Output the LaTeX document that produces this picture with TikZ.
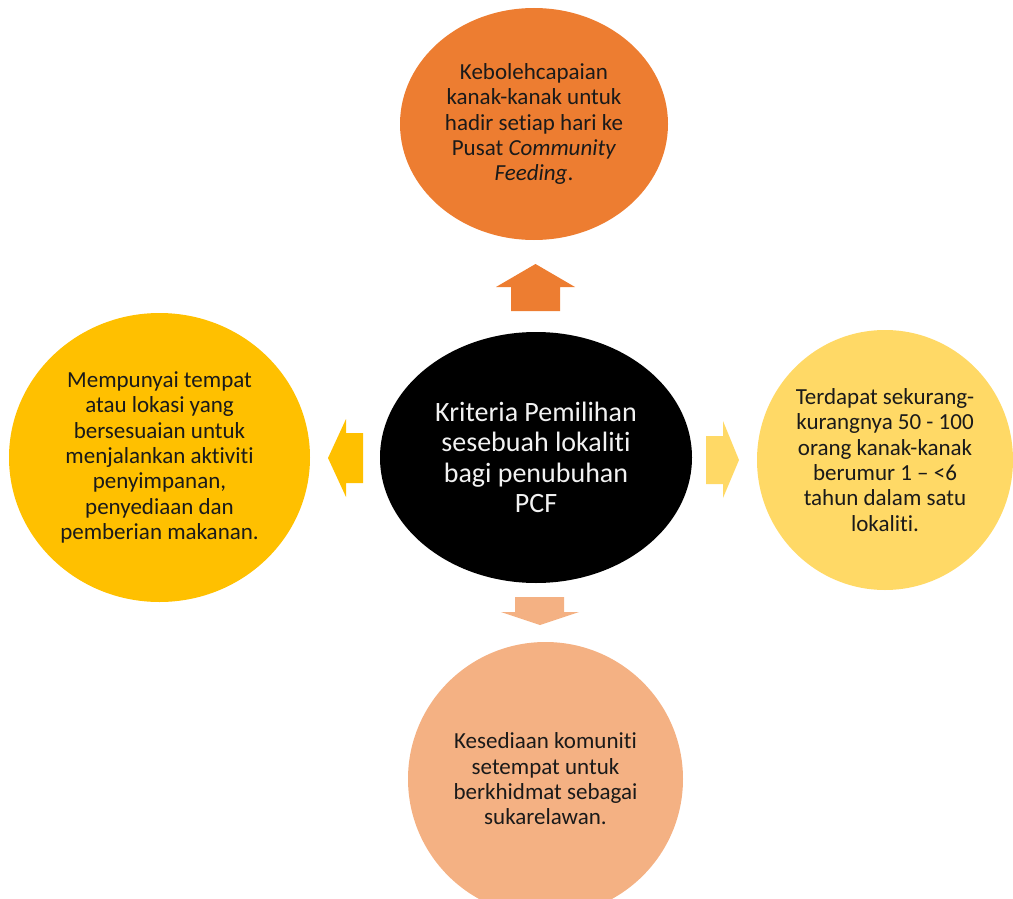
\documentclass[tikz,border=0pt]{standalone}
\usepackage{fontspec}
\setmainfont{Carlito}[Ligatures=NoCommon]
\usetikzlibrary{shapes.geometric}
\definecolor{cTop}{HTML}{ED7D31}
\definecolor{cLeft}{HTML}{FFC000}
\definecolor{cRight}{HTML}{FFD966}
\definecolor{cBottom}{HTML}{F4B183}
\definecolor{cText}{HTML}{1A1A1A}
\tikzset{
  bubble/.style={ellipse, inner sep=-40pt, align=center, text=cText,
    font=\fontsize{23}{25.3}\selectfont},
  hub/.style={ellipse, inner sep=-40pt, align=center, fill=black, text=white!95!black,
    font=\fontsize{28}{30.5}\selectfont},
}
\begin{document}
\begin{tikzpicture}[x=1pt,y=-1pt]
\useasboundingbox (0,0) rectangle (1013,899);
\begin{scope}
\clip (0,0) rectangle (1013,899);
% centre
\node[hub, minimum width=312pt, minimum height=251pt] (hub) at (536,457.5)
  {Kriteria Pemilihan\\sesebuah lokaliti\\bagi penubuhan\\PCF};
% top
\node[bubble, fill=cTop, minimum width=268pt, minimum height=232pt] (top) at (534,124)
  {Kebolehcapaian\\kanak-kanak untuk\\hadir setiap hari ke\\Pusat \textit{Community}\\\textit{Feeding}.};
% left
\node[bubble, fill=cLeft, minimum width=301pt, minimum height=289pt] (left) at (159.5,457.5)
  {Mempunyai tempat\\atau lokasi yang\\bersesuaian untuk\\menjalankan aktiviti\\penyimpanan,\\penyediaan dan\\pemberian makanan.};
% right
\node[bubble, fill=cRight, minimum width=256pt, minimum height=260pt] (right) at (885,460)
  {Terdapat sekurang-\\kurangnya 50 - 100\\orang kanak-kanak\\berumur 1 -- <6\\tahun dalam satu\\lokaliti.};
% bottom
\node[bubble, fill=cBottom, minimum width=275pt, minimum height=274pt] (bottom) at (545.5,779)
  {Kesediaan komuniti\\setempat untuk\\berkhidmat sebagai\\sukarelawan.};
\end{scope}
% block arrows
\fill[cTop] (511,311) -- (511,287) -- (496,287) -- (535.5,264) -- (575,287) -- (560,287) -- (560,311) -- cycle;
\fill[cLeft] (363,433) -- (346,433) -- (346,419) -- (328,458) -- (346,497) -- (346,483) -- (363,483) -- cycle;
\fill[cRight] (706,436) -- (723,436) -- (723,421) -- (739,460) -- (723,498) -- (723,484) -- (706,484) -- cycle;
\fill[cBottom] (515,597) -- (564,597) -- (564,612) -- (579,612) -- (540,625) -- (501,612) -- (515,612) -- cycle;
\end{tikzpicture}
\end{document}
